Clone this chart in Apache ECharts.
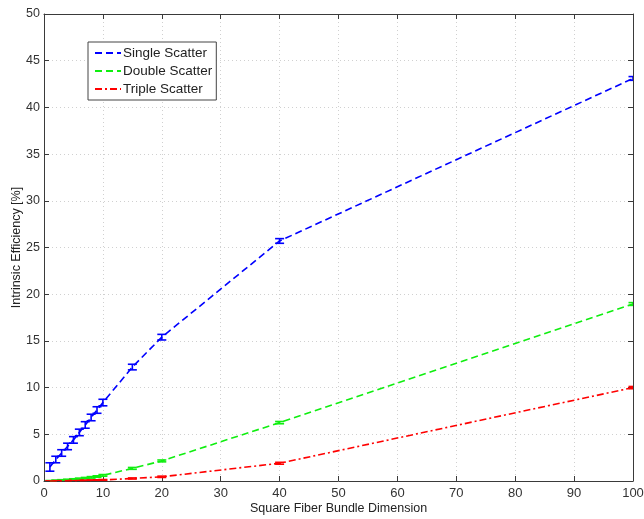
<!DOCTYPE html>
<html>
<head>
<meta charset="utf-8">
<script src="https://cdn.jsdelivr.net/npm/echarts@6/dist/echarts.min.js"></script>
<style>
html,body{margin:0;padding:0;background:#fff;}
#chart{width:644px;height:519px;}
</style>
</head>
<body>
<div id="chart"></div>
<script>
const xVals = [1, 2, 3, 4, 5, 6, 7, 8, 9, 10, 15, 20, 40, 100];
const singleVals = [1.5, 2.3, 3.0, 3.7, 4.4, 5.2, 6.0, 6.8, 7.6, 8.4, 12.2, 15.4, 25.7, 43.1];
const singleErr = [0.45, 0.35, 0.35, 0.35, 0.35, 0.35, 0.35, 0.35, 0.35, 0.35, 0.3, 0.3, 0.25, 0.2];
const doubleVals = [0.02, 0.05, 0.09, 0.13, 0.18, 0.24, 0.31, 0.39, 0.48, 0.6, 1.35, 2.15, 6.25, 18.95];
const doubleErr = [0.03, 0.05, 0.05, 0.06, 0.06, 0.07, 0.07, 0.08, 0.08, 0.09, 0.1, 0.1, 0.12, 0.15];
const tripleVals = [0.0, 0.01, 0.01, 0.02, 0.03, 0.04, 0.05, 0.07, 0.09, 0.11, 0.27, 0.45, 1.9, 10.0];
const tripleErr = [0.01, 0.02, 0.02, 0.02, 0.03, 0.03, 0.03, 0.04, 0.04, 0.05, 0.06, 0.07, 0.1, 0.12];
const seriesNames = ['Single Scatter', 'Double Scatter', 'Triple Scatter'];
const xTicks = [0, 10, 20, 30, 40, 50, 60, 70, 80, 90, 100];
const yTicks = [0, 5, 10, 15, 20, 25, 30, 35, 40, 45, 50];

const colors = ['#0000ff', '#10ee10', '#ff0000'];
const dashes = [[7, 4], [7, 4], [7, 3, 2, 3]];
const vals = [singleVals, doubleVals, tripleVals];
const errs = [singleErr, doubleErr, tripleErr];

function errSeries(idx) {
  const data = xVals.map((x, i) => [x, vals[idx][i] - errs[idx][i], vals[idx][i] + errs[idx][i]]);
  return {
    type: 'custom',
    name: 'err' + idx,
    data: data,
    z: 3,
    clip: true,
    renderItem: function (params, api) {
      const x = api.value(0);
      const lo = api.coord([x, api.value(1)]);
      const hi = api.coord([x, api.value(2)]);
      const w = 4.5;
      const st = { stroke: colors[idx], lineWidth: 1.6 };
      return {
        type: 'group',
        children: [
          { type: 'line', shape: { x1: lo[0], y1: lo[1], x2: hi[0], y2: hi[1] }, style: st },
          { type: 'line', shape: { x1: lo[0] - w, y1: lo[1], x2: lo[0] + w, y2: lo[1] }, style: st },
          { type: 'line', shape: { x1: hi[0] - w, y1: hi[1], x2: hi[0] + w, y2: hi[1] }, style: st }
        ]
      };
    }
  };
}

const lineSeries = seriesNames.map((n, idx) => ({
  type: 'line',
  name: n,
  data: xVals.map((x, i) => [x, vals[idx][i]]),
  symbol: 'none',
  z: 4,
  lineStyle: { color: colors[idx], width: 1.6, type: dashes[idx] },
  itemStyle: { color: colors[idx] }
}));

const font = 'Liberation Sans, Arial, sans-serif';
const axisCol = '#3a3a3a';
const tickStyle = { show: true, inside: true, length: 5, lineStyle: { color: axisCol, width: 1 } };
const chart = echarts.init(document.getElementById('chart'), null, { renderer: 'canvas' });
chart.setOption({
  animation: false,
  backgroundColor: '#fff',
  textStyle: { fontFamily: font },
  grid: { left: 44, right: 11, top: 14, bottom: 38, containLabel: false, outerBoundsMode: 'none' },
  legend: {
    data: seriesNames,
    orient: 'vertical',
    left: 88,
    top: 42,
    backgroundColor: '#fff',
    borderColor: '#444',
    borderWidth: 1,
    borderRadius: 0,
    padding: [4, 4, 4, 6],
    itemGap: 4,
    itemWidth: 26,
    itemHeight: 12,
    itemStyle: { opacity: 0 },
    textStyle: { fontFamily: font, fontSize: 13.5, color: '#222', padding: [0, 0, 0, -3] }
  },
  xAxis: [{
    type: 'value', min: 0, max: 100, interval: 10, position: 'bottom',
    name: 'Square Fiber Bundle Dimension', nameLocation: 'middle', nameGap: 21, nameMoveOverlap: false,
    nameTextStyle: { fontFamily: font, fontSize: 12.5, color: '#222' },
    axisLine: { show: true, onZero: false, lineStyle: { color: axisCol, width: 1 } },
    axisTick: tickStyle,
    axisLabel: { fontFamily: font, fontSize: 13, color: '#333', margin: 6 },
    splitLine: { show: true, lineStyle: { color: '#d0d0d0', type: [1, 3], width: 1 } }
  }, {
    type: 'value', min: 0, max: 100, interval: 10, position: 'top',
    axisLine: { show: true, onZero: false, lineStyle: { color: axisCol, width: 1 } },
    axisTick: tickStyle,
    axisLabel: { show: false }, splitLine: { show: false }
  }],
  yAxis: [{
    type: 'value', min: 0, max: 50, interval: 5, position: 'left',
    name: 'Intrinsic Efficiency [%]', nameLocation: 'middle', nameGap: 21, nameMoveOverlap: false,
    nameTextStyle: { fontFamily: font, fontSize: 12.5, color: '#222' },
    axisLine: { show: true, onZero: false, lineStyle: { color: axisCol, width: 1 } },
    axisTick: tickStyle,
    axisLabel: { fontFamily: font, fontSize: 12.5, color: '#333', margin: 4 },
    splitLine: { show: true, lineStyle: { color: '#d0d0d0', type: [1, 3], width: 1 } }
  }, {
    type: 'value', min: 0, max: 50, interval: 5, position: 'right',
    axisLine: { show: true, onZero: false, lineStyle: { color: axisCol, width: 1 } },
    axisTick: tickStyle,
    axisLabel: { show: false }, splitLine: { show: false }
  }],
  series: lineSeries.concat([errSeries(0), errSeries(1), errSeries(2)])
});
</script>
</body>
</html>
